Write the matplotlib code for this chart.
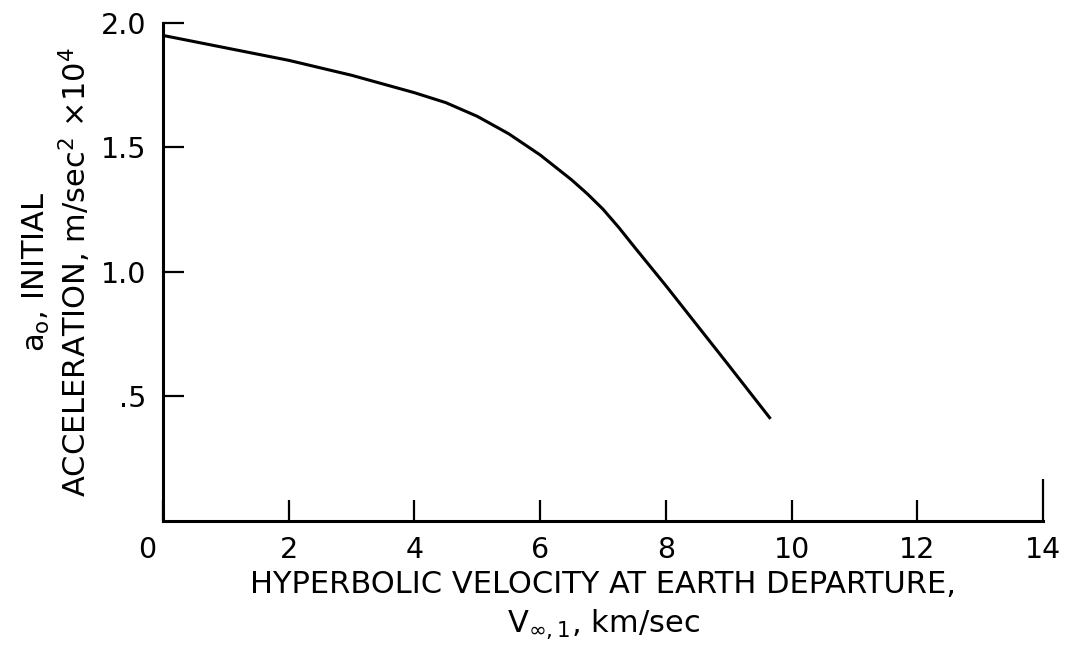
import matplotlib
matplotlib.use('Agg')
import matplotlib.pyplot as plt
import matplotlib.transforms as mtransforms

plt.rcParams['font.family'] = ['DejaVu Sans']
plt.rcParams['mathtext.fontset'] = 'dejavusans'

# velocity (km/sec) vs. initial acceleration (m/sec^2 x 1e4)
v_inf = [0, 0.5, 1, 1.5, 2, 2.5, 3, 3.5, 4, 4.5, 5, 5.5, 6, 6.5, 6.75, 7,
         7.25, 7.5, 8, 8.5, 9, 9.65]
accel = [1.95, 1.925, 1.90, 1.875, 1.85, 1.82, 1.79, 1.755, 1.72, 1.68,
         1.625, 1.555, 1.47, 1.37, 1.314, 1.252, 1.179, 1.10, 0.945, 0.785,
         0.625, 0.415]

x_ticks = [0, 2, 4, 6, 8, 10, 12, 14]
x_labels = ['0', '2', '4', '6', '8', '10', '12', '14']
y_ticks = [0.5, 1.0, 1.5, 2.0]
y_labels = ['.5', '1.0', '1.5', '2.0']

fig = plt.figure(figsize=(10.69, 6.53), dpi=100)
ax = fig.add_axes([0.1525, 0.2022, 0.8232, 0.7626])

ax.plot(v_inf, accel, color='black', linewidth=2.2, solid_joinstyle='round')

ax.set_xlim(0, 14)
ax.set_ylim(0, 2.0)
ax.spines['top'].set_visible(False)
ax.spines['right'].set_visible(False)
for s in ['left', 'bottom']:
    ax.spines[s].set_linewidth(2.2)

ax.set_xticks(x_ticks)
ax.set_xticklabels(x_labels)
ax.set_yticks(y_ticks)
ax.set_yticklabels(y_labels)
ax.tick_params(direction='in', length=15, width=1.6, labelsize=20.5, pad=11)
ax.tick_params(axis='y', pad=12)

# longer end tick at 14, shift the "0" label left
ax.xaxis.get_major_ticks()[-1].tick1line.set_markersize(30)
lbl0 = ax.get_xticklabels()[0]
lbl0.set_transform(lbl0.get_transform() +
                   mtransforms.ScaledTranslation(-0.16, 0, fig.dpi_scale_trans))

ax.set_xlabel('HYPERBOLIC VELOCITY AT EARTH DEPARTURE,\n'
              r'V$_{\infty,\mathregular{1}}$, km/sec',
              fontsize=22, labelpad=4, linespacing=1.35)
ax.set_ylabel(r'a$_{\mathregular{o}}$, INITIAL' + '\n' +
              r'ACCELERATION, m/sec$^{\mathregular{2}}$ $\mathregular{\times 10^4}$',
              fontsize=22, labelpad=6, linespacing=1.15)

plt.savefig('out.png', dpi=100)
plt.close()
